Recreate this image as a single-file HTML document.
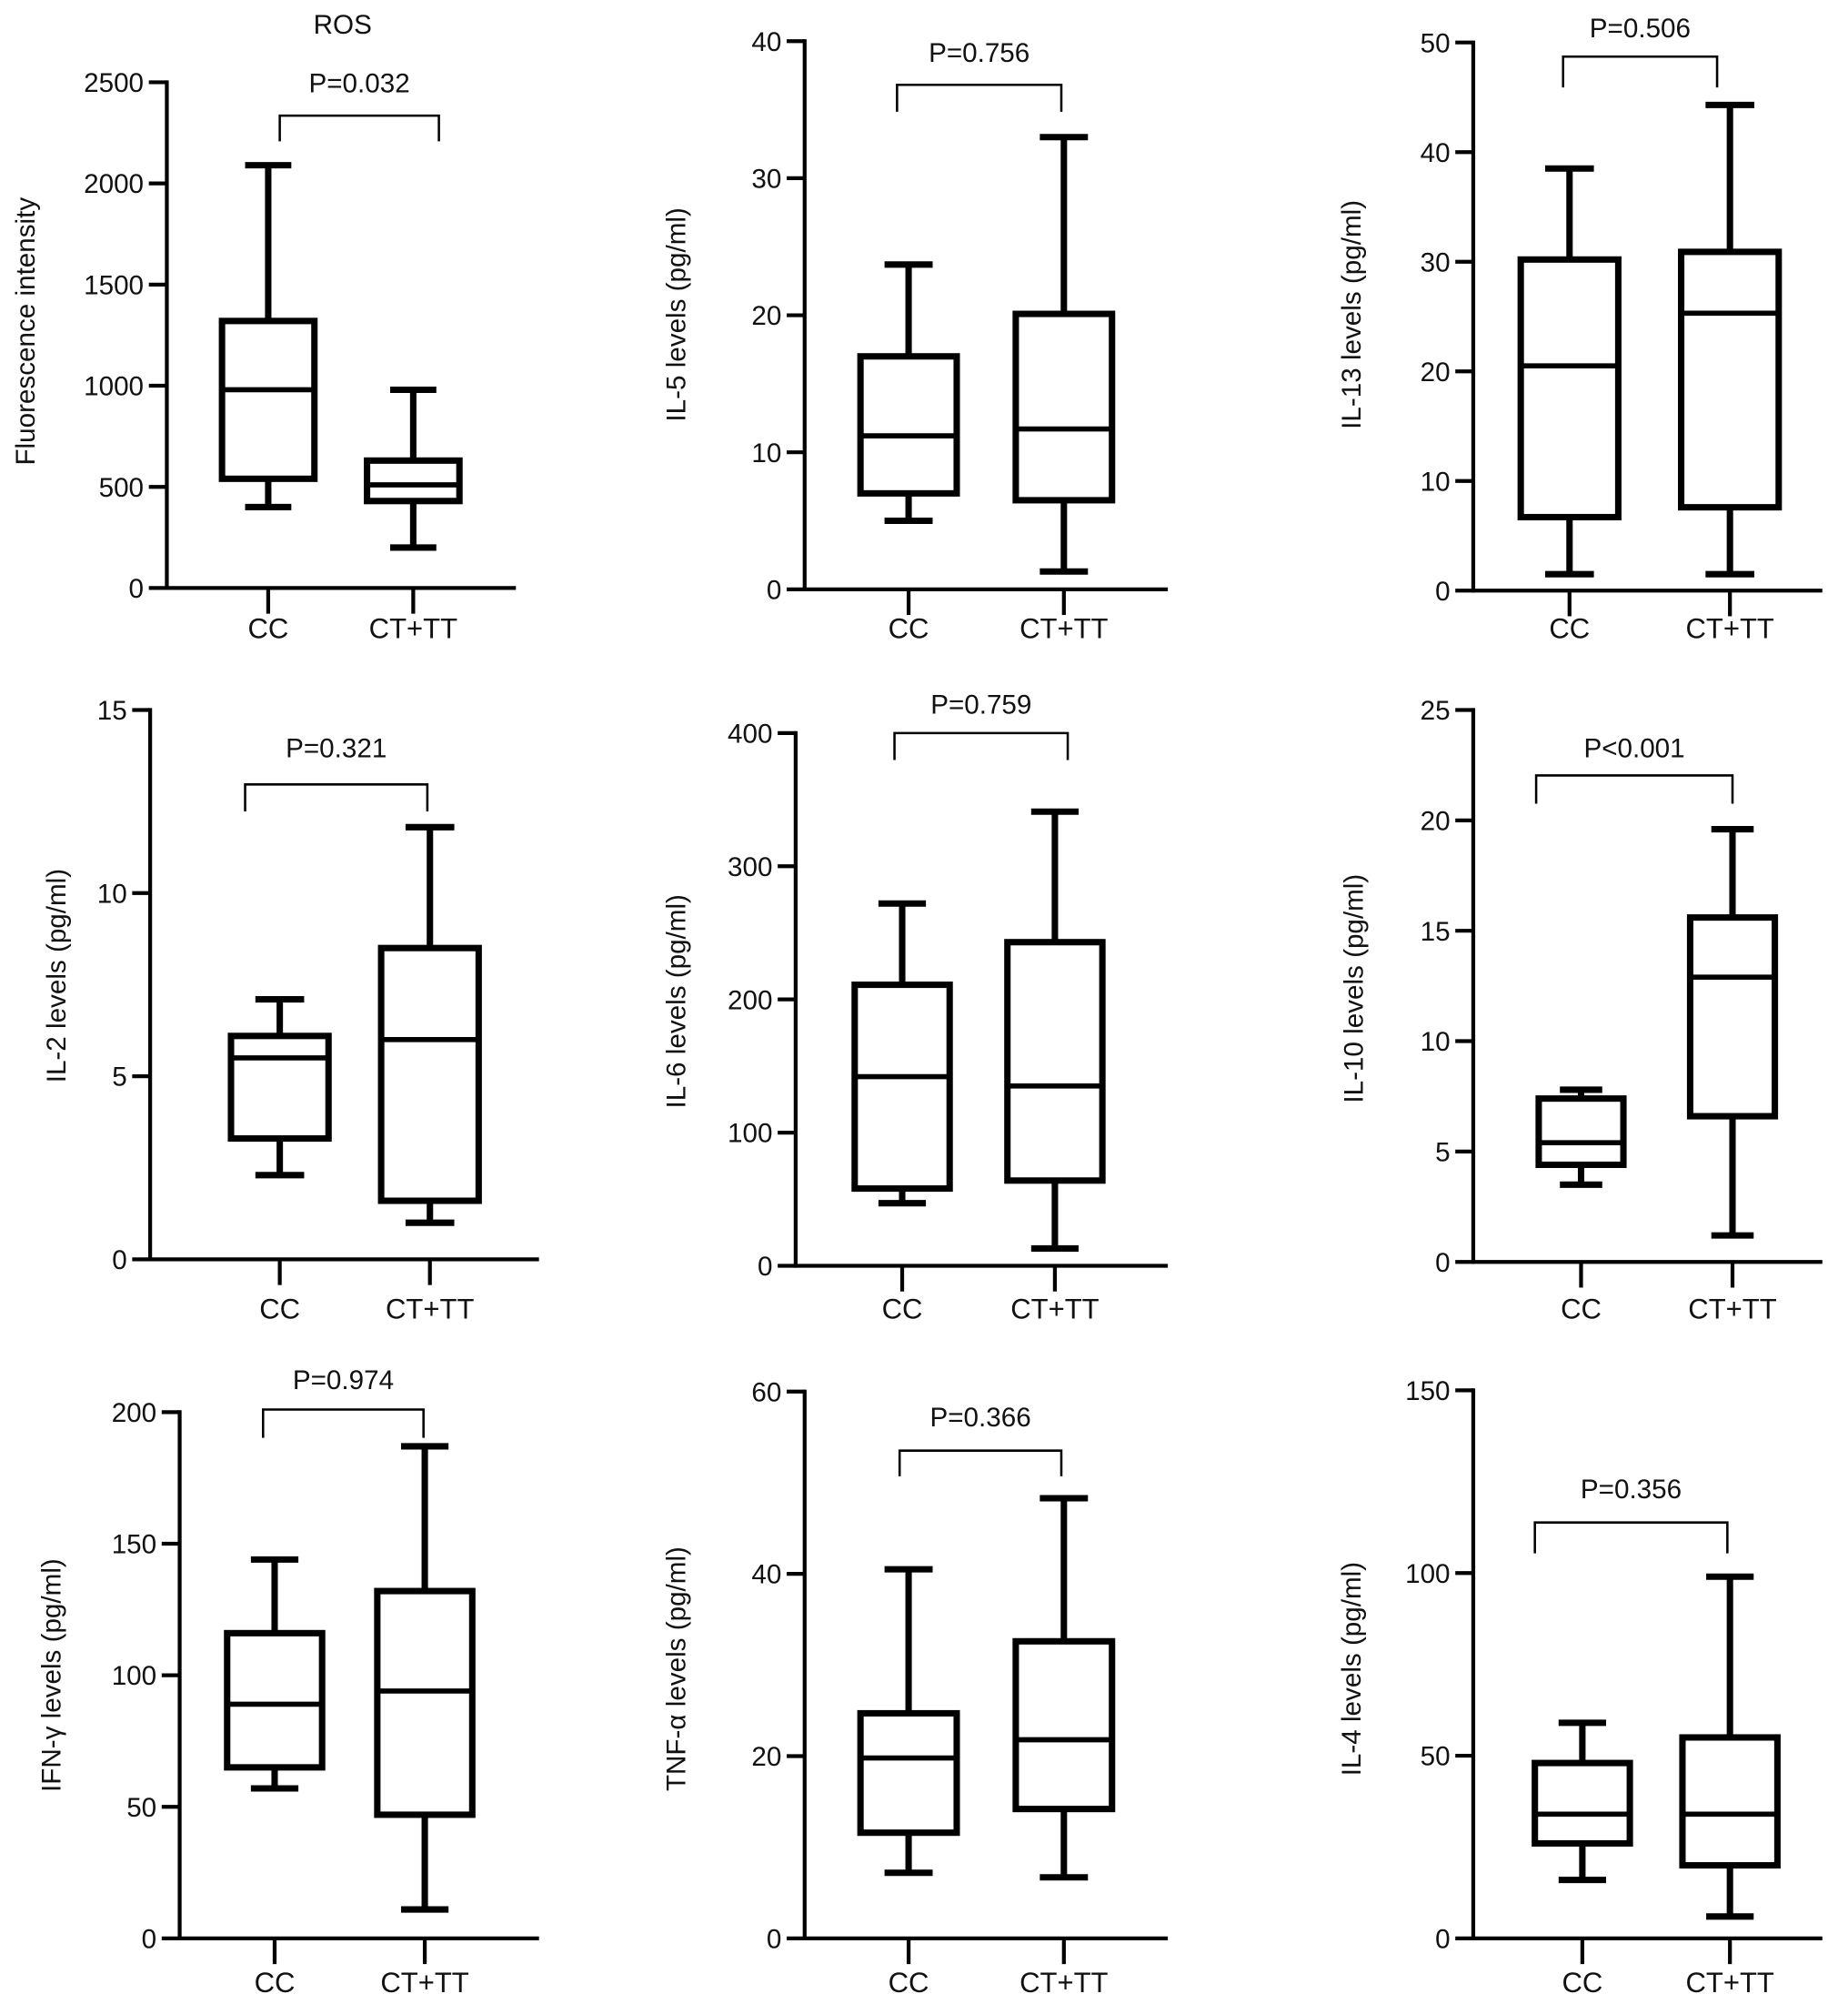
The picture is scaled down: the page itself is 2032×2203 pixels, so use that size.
<!DOCTYPE html>
<html><head><meta charset="utf-8"><style>
html,body{margin:0;padding:0;background:#fff;}
svg{display:block;}
text{font-family:"Liberation Sans",Arial,sans-serif;fill:#111;}
</style></head><body>
<svg id="chart" width="2032" height="2203" viewBox="0 0 1440 1561" xmlns="http://www.w3.org/2000/svg"></svg>
<script>
// Per-panel data arrays: [whiskerLow, q1, median, q3, whiskerHigh]
const categories = ["CC", "CT+TT"];
const rosValues = [[400, 540, 980, 1320, 2090], [200, 430, 510, 630, 980]];
const il5Values = [[5, 7, 11.2, 17, 23.7], [1.3, 6.5, 11.7, 20.1, 33]];
const il13Values = [[1.5, 6.7, 20.5, 30.2, 38.5], [1.5, 7.6, 25.3, 30.9, 44.3]];
const il2Values = [[2.3, 3.3, 5.5, 6.1, 7.1], [1.0, 1.6, 6.0, 8.5, 11.8]];
const il6Values = [[47, 58, 142, 211, 272], [13, 64, 135, 243, 341]];
const il10Values = [[3.5, 4.4, 5.4, 7.4, 7.8], [1.2, 6.6, 12.9, 15.6, 19.6]];
const ifnValues = [[57, 65, 89, 116, 144], [11, 47, 94, 132, 187]];
const tnfValues = [[7.2, 11.6, 19.8, 24.7, 40.5], [6.7, 14.2, 21.8, 32.6, 48.3]];
const il4Values = [[16, 26, 34, 48, 59], [6, 20, 34, 55, 99]];
const rosTicks = [0, 500, 1000, 1500, 2000, 2500];
const il5Ticks = [0, 10, 20, 30, 40];
const il13Ticks = [0, 10, 20, 30, 40, 50];
const il2Ticks = [0, 5, 10, 15];
const il6Ticks = [0, 100, 200, 300, 400];
const il10Ticks = [0, 5, 10, 15, 20, 25];
const ifnTicks = [0, 50, 100, 150, 200];
const tnfTicks = [0, 20, 40, 60];
const il4Ticks = [0, 50, 100, 150];
const pLabels = ["P=0.032", "P=0.756", "P=0.506", "P=0.321", "P=0.759", "P<0.001", "P=0.974", "P=0.366", "P=0.356"];
const yTitles = ["Fluorescence intensity", "IL-5 levels (pg/ml)", "IL-13 levels (pg/ml)", "IL-2 levels (pg/ml)", "IL-6 levels (pg/ml)", "IL-10 levels (pg/ml)", "IFN-\u03b3 levels (pg/ml)", "TNF-\u03b1 levels (pg/ml)", "IL-4 levels (pg/ml)"];

// layout (not data)
const panels = [
 {name:"ros", vals:rosValues, ticks:rosTicks, ax:130, yTop:64, yBot:458, xEnd:402, cx:[209,322], bw:72, br:[218,342,90,110], ptY:72, ttl:[20,258], title:"ROS"},
 {name:"il5", vals:il5Values, ticks:il5Ticks, ax:627, yTop:32, yBot:459, xEnd:910, cx:[708,829], bw:75, br:[699,827,66,87], ptY:48, ttl:[527,245]},
 {name:"il13", vals:il13Values, ticks:il13Ticks, ax:1148, yTop:33, yBot:460, xEnd:1420, cx:[1223,1348], bw:76, br:[1218,1338,44,68], ptY:29, ttl:[1053,245]},
 {name:"il2", vals:il2Values, ticks:il2Ticks, ax:117, yTop:553, yBot:981, xEnd:420, cx:[218,335], bw:76, br:[191,333,611,632], ptY:590, ttl:[44,760]},
 {name:"il6", vals:il6Values, ticks:il6Ticks, ax:620, yTop:571, yBot:986, xEnd:910, cx:[703,822], bw:74, br:[697,832,571,592], ptY:556, ttl:[527,780]},
 {name:"il10", vals:il10Values, ticks:il10Ticks, ax:1148, yTop:553, yBot:983, xEnd:1420, cx:[1232,1350], bw:66, br:[1197,1350,604,626], ptY:590, ttl:[1055,770]},
 {name:"ifn", vals:ifnValues, ticks:ifnTicks, ax:140, yTop:1100, yBot:1510, xEnd:420, cx:[214,331], bw:74, br:[205,330,1098,1120], ptY:1082, ttl:[40,1305]},
 {name:"tnf", vals:tnfValues, ticks:tnfTicks, ax:627, yTop:1084, yBot:1510, xEnd:910, cx:[708,829], bw:75, br:[701,827,1130,1150], ptY:1111, ttl:[527,1300]},
 {name:"il4", vals:il4Values, ticks:il4Ticks, ax:1148, yTop:1083, yBot:1510, xEnd:1420, cx:[1233,1348], bw:74, br:[1196,1346,1186,1210], ptY:1167, ttl:[1053,1300]}
];
const catY = [497, 497, 497, 1027, 1027, 1027, 1552, 1552, 1552];
const NS = "http://www.w3.org/2000/svg";
const svg = document.getElementById("chart");
function mk(tag, attrs, parent){ const e=document.createElementNS(NS,tag); for(const k in attrs) e.setAttribute(k,attrs[k]); parent.appendChild(e); return e; }
function line(g,x1,y1,x2,y2,w){ return mk("line",{x1,y1,x2,y2,stroke:"#000","stroke-width":w,"stroke-linecap":"butt"},g); }

panels.forEach((p,pi)=>{
  const g = mk("g",{},svg);
  
  
  const maxT = p.ticks[p.ticks.length-1];
  const y = v => p.yBot - (v/maxT)*(p.yBot-p.yTop);
  const ya = line(g,p.ax,p.yTop-1.5,p.ax,p.yBot+1.5,3);
  
  
  const xa = line(g,p.ax,p.yBot,p.xEnd,p.yBot,3);
  
  
  p.ticks.forEach(t=>{
    line(g,p.ax-14,y(t),p.ax,y(t),3);
    const tx = mk("text",{x:p.ax-18,y:y(t)+7.5,"font-size":21,"text-anchor":"end"},g);
    tx.textContent = t;
    
    
  });
  const yt = mk("text",{x:p.ttl[0]+7,y:p.ttl[1],"font-size":21,"text-anchor":"middle",transform:`rotate(-90 ${p.ttl[0]+7} ${p.ttl[1]})`},g);
  yt.textContent = yTitles[pi];
  
  
  if(p.title){
    const tt = mk("text",{x:267,y:26,"font-size":21,"text-anchor":"middle"},g);
    tt.textContent = p.title;
    
    
  }
  p.vals.forEach((v,ci)=>{
    const cx = p.cx[ci], hw = p.bw/2, cap = p.bw/4;
    const bg = mk("g",{},g);
    
    
    line(bg,cx,p.yBot,cx,p.yBot+20,3);
    line(bg,cx,y(v[0]),cx,y(v[1]),5);
    line(bg,cx,y(v[3]),cx,y(v[4]),5);
    line(bg,cx-cap,y(v[0]),cx+cap,y(v[0]),5);
    line(bg,cx-cap,y(v[4]),cx+cap,y(v[4]),5);
    mk("rect",{x:cx-hw,y:y(v[3]),width:p.bw,height:y(v[1])-y(v[3]),fill:"none",stroke:"#000","stroke-width":5},bg);
    line(bg,cx-hw,y(v[2]),cx+hw,y(v[2]),4);
    const ct = mk("text",{x:cx,y:catY[pi],"font-size":22,"text-anchor":"middle"},g);
    ct.textContent = categories[ci];
    
    
  });
  const b = p.br;
  const bp = mk("polyline",{points:`${b[0]},${b[3]} ${b[0]},${b[2]} ${b[1]},${b[2]} ${b[1]},${b[3]}`,fill:"none",stroke:"#000","stroke-width":1.8},g);
  
  
  const pt = mk("text",{x:(b[0]+b[1])/2,y:p.ptY,"font-size":21,"text-anchor":"middle"},g);
  pt.textContent = pLabels[pi];
  
  
});
</script>
</body></html>
